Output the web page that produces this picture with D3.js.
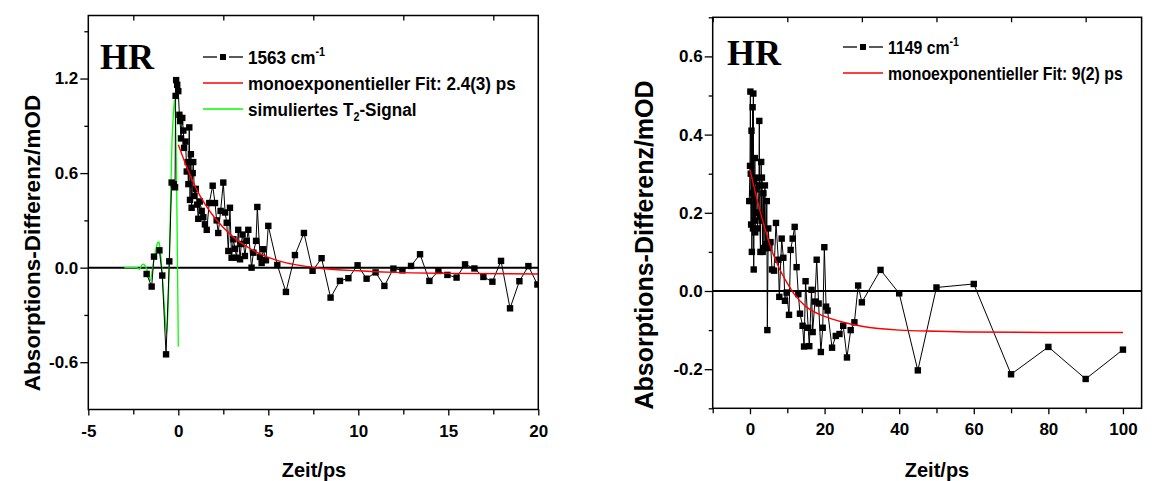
<!DOCTYPE html>
<html>
<head>
<meta charset="utf-8">
<script src="https://cdn.jsdelivr.net/npm/d3@7"></script>
<style>
  body { margin: 0; background: #fff; }
  svg { display: block; }
  text { font-family: "Liberation Sans", Arial, sans-serif; font-weight: bold; fill: #000; }
  .hr { font-family: "Liberation Serif", "Times New Roman", serif; }
</style>
</head>
<body>
<svg id="chart" width="1153" height="481"></svg>
<script>
// left panel: 1563 cm-1 trace [t/ps, dA/mOD]
var leftData = [
  [-1.76,-0.04],[-1.48,-0.12],[-1.35,0.07],[-1.05,0.11],[-0.89,-0.05],[-0.68,-0.55],[-0.5,0.04],
  [-0.37,0.54],[-0.25,0.53],[-0.18,0.51],[-0.15,1.09],[-0.12,1.19],[-0.06,1.16],[0.0,1.12],
  [0.06,0.97],[0.1,0.93],[0.15,0.82],[0.22,0.95],[0.28,0.87],[0.32,0.76],[0.4,0.8],[0.47,0.61],
  [0.52,0.67],[0.56,0.53],[0.61,0.89],[0.65,0.43],[0.7,0.72],[0.74,0.38],[0.8,0.6],[0.83,0.67],
  [0.9,0.455],[0.97,0.5],[1.05,0.4],[1.11,0.31],[1.2,0.42],[1.3,0.36],[1.39,0.32],[1.48,0.275],
  [1.58,0.24],[1.72,0.41],[1.91,0.52],[2.04,0.41],[2.13,0.3],[2.22,0.22],[2.35,0.36],[2.5,0.54],
  [2.6,0.35],[2.69,0.285],[2.78,0.106],[2.87,0.38],[2.96,0.063],[3.06,0.18],[3.15,0.12],[3.24,0.063],
  [3.33,0.24],[3.43,0.053],[3.5,0.15],[3.57,0.21],[3.7,0.074],[3.8,0.17],[3.89,0.24],[4.07,0.0],
  [4.17,0.095],[4.32,0.17],[4.39,0.385],[4.54,0.068],[4.63,0.03],[4.72,0.117],[4.87,0.047],[5.0,0.265],
  [5.5,0.017],[5.98,-0.154],[6.48,0.08],[6.98,0.22],[7.46,-0.02],[7.96,0.06],[8.46,-0.19],[8.98,-0.084],
  [9.45,-0.067],[9.96,0.015],[10.46,-0.07],[10.96,-0.03],[11.45,-0.116],[11.95,-0.006],[12.45,-0.017],
  [12.93,0.011],[13.43,0.085],[13.95,-0.084],[14.45,-0.021],[14.95,-0.046],[15.46,-0.063],[15.93,0.021],
  [16.45,-0.005],[16.95,-0.059],[17.45,-0.089],[17.93,0.043],[18.43,-0.258],[18.95,-0.086],[19.45,0.01],
  [19.95,-0.107]
];
var leftFit = [
  [0,0.78],[0.5,0.63],[1,0.5],[1.5,0.4],[2,0.32],[3,0.2],[4,0.12],[5,0.065],[6,0.03],[7,0.01],
  [8,-0.005],[10,-0.02],[12,-0.03],[15,-0.036],[20,-0.04]
];
var leftSim = [
  [-3.0,0],[-2.6,0],[-2.3,0],[-2.15,-0.01],[-2.0,0.02],[-1.9,0.02],[-1.75,-0.01],[-1.55,-0.08],
  [-1.4,0.02],[-1.2,0.14],[-1.07,0.16],[-0.95,0.05],[-0.8,-0.2],[-0.65,-0.42],[-0.55,-0.2],
  [-0.45,0.3],[-0.35,0.8],[-0.2,1.06],[-0.1,0.6],[0.0,-0.5]
];

// right panel: 1149 cm-1 trace
var rightData = [
  [-0.2,0.23],[0.0,0.32],[0.1,0.51],[0.2,0.3],[0.3,0.17],[0.4,0.41],[0.5,0.1],[0.6,0.25],[0.7,0.47],
  [0.8,0.16],[0.9,0.505],[1.0,0.055],[1.1,0.28],[1.2,0.18],[1.3,0.34],[1.4,0.15],[1.5,0.26],[1.6,0.2],
  [1.8,0.29],[2.0,0.16],[2.2,0.2],[2.4,0.27],[2.5,0.435],[2.6,0.19],[2.8,0.1],[3.0,0.33],[3.1,0.18],
  [3.2,0.29],[3.4,0.1],[3.6,0.25],[3.75,0.11],[4.0,0.27],[4.2,0.11],[4.4,0.12],[4.5,0.23],[4.65,-0.1],
  [4.9,0.16],[5.2,0.11],[5.5,0.125],[5.9,0.055],[6.45,0.052],[6.97,0.174],[7.6,0.08],[7.86,-0.015],
  [8.5,0.134],[8.94,0.085],[9.38,-0.025],[9.83,-0.004],[10.46,-0.061],[10.9,0.105],[11.44,0.134],
  [11.98,0.164],[12.5,0.061],[12.96,-0.008],[13.4,-0.058],[14.1,-0.089],[14.5,-0.142],[14.9,0.025],
  [15.6,-0.094],[15.9,-0.141],[16.5,0.003],[16.8,-0.105],[17.4,-0.027],[17.88,0.08],[18.4,-0.032],
  [19.0,-0.156],[19.5,-0.094],[19.93,0.112],[20.4,-0.04],[20.8,-0.05],[22,-0.145],[23,-0.115],
  [24,-0.11],[25,-0.089],[26,-0.17],[27,-0.1],[28,-0.08],[29,0.014],[30,-0.029],[35,0.054],
  [40,-0.006],[45,-0.203],[50,0.009],[60,0.018],[70,-0.213],[80,-0.143],[90,-0.225],[100,-0.15]
];
var rightFit = [
  [0,0.31],[2,0.23],[4,0.16],[6,0.1],[8,0.055],[10,0.02],[12,-0.01],[15,-0.04],[20,-0.065],
  [25,-0.08],[30,-0.09],[40,-0.1],[50,-0.103],[60,-0.105],[80,-0.106],[100,-0.106]
];

var leftXTicks = [-5, 0, 5, 10, 15, 20];
var leftYTicks = [-0.6, 0.0, 0.6, 1.2];
var rightXTicks = [0, 20, 40, 60, 80, 100];
var rightYTicks = [-0.2, 0.0, 0.2, 0.4, 0.6];

var svg = d3.select('#chart');
svg.append('rect').attr('width', 1153).attr('height', 481).attr('fill', '#fff');

// plain hyphen instead of unicode minus, like the original plot
function hyph(fmt) {
  var f = d3.format(fmt);
  return function(d) { return f(d).replace('\u2212', '-'); };
}

function drawPanel(cfg) {
  var x = d3.scaleLinear().domain(cfg.xDomain).range([cfg.left, cfg.right]);
  var y = d3.scaleLinear().domain(cfg.yDomain).range([cfg.bottom, cfg.top]);
  var g = svg.append('g');

  // clip to the frame
  var clipId = 'clip' + cfg.id;
  svg.append('clipPath').attr('id', clipId).append('rect')
    .attr('x', cfg.left).attr('y', cfg.top)
    .attr('width', cfg.right - cfg.left).attr('height', cfg.bottom - cfg.top);

  // zero line
  g.append('line')
    .attr('x1', cfg.left).attr('x2', cfg.right)
    .attr('y1', y(0)).attr('y2', y(0))
    .attr('stroke', '#000').attr('stroke-width', 2);

  var plot = g.append('g').attr('clip-path', 'url(#' + clipId + ')');
  var line = d3.line().x(function(d) { return x(d[0]); }).y(function(d) { return y(d[1]); });

  if (cfg.sim) {
    plot.append('path').datum(cfg.sim)
      .attr('d', d3.line().curve(d3.curveCardinal.tension(0.3))
        .x(function(d) { return x(d[0]); }).y(function(d) { return y(d[1]); }))
      .attr('fill', 'none').attr('stroke', '#00ff00').attr('stroke-width', 1.3);
  }
  plot.append('path').datum(cfg.data).attr('d', line)
    .attr('fill', 'none').attr('stroke', '#000').attr('stroke-width', 1);
  plot.selectAll('rect.pt').data(cfg.data).enter().append('rect')
    .attr('class', 'pt')
    .attr('x', function(d) { return x(d[0]) - 3.2; })
    .attr('y', function(d) { return y(d[1]) - 3.2; })
    .attr('width', 6.4).attr('height', 6.4)
    .attr('fill', '#000');
  plot.append('path').datum(cfg.fit)
    .attr('d', d3.line().curve(d3.curveMonotoneX)
      .x(function(d) { return x(d[0]); }).y(function(d) { return y(d[1]); }))
    .attr('fill', 'none').attr('stroke', '#ff0000').attr('stroke-width', 1.4);

  // axes
  var bottomAxis = d3.axisBottom(x).tickValues(cfg.xMinor).tickSize(5).tickFormat('');
  var bottomMajor = d3.axisBottom(x).tickValues(cfg.xTicks).tickSize(6).tickPadding(9)
    .tickFormat(hyph('d'));
  var leftMinor = d3.axisLeft(y).tickValues(cfg.yMinor).tickSize(4).tickFormat('');
  var leftMajor = d3.axisLeft(y).tickValues(cfg.yTicks).tickSize(8).tickPadding(2)
    .tickFormat(hyph('.1f'));
  var topMinor = d3.axisTop(x).tickValues(cfg.xMinor).tickSize(-5).tickFormat('');

  [[bottomAxis, 'translate(0,' + cfg.bottom + ')'],
   [bottomMajor, 'translate(0,' + cfg.bottom + ')'],
   [topMinor, 'translate(0,' + cfg.top + ')'],
   [leftMinor, 'translate(' + cfg.left + ',0)'],
   [leftMajor, 'translate(' + cfg.left + ',0)']].forEach(function(a) {
    var ax = g.append('g').attr('transform', a[1]).call(a[0]);
    ax.select('.domain').remove();
    ax.selectAll('line').attr('stroke', '#000').attr('stroke-width', 1.3);
    ax.selectAll('text').style('font-size', '17px').style('font-family', '"Liberation Sans", Arial, sans-serif')
      .style('font-weight', 'bold').attr('fill', '#000');
  });

  // frame
  g.append('rect')
    .attr('x', cfg.left).attr('y', cfg.top)
    .attr('width', cfg.right - cfg.left).attr('height', cfg.bottom - cfg.top)
    .attr('fill', 'none').attr('stroke', '#000').attr('stroke-width', 1.5);

  // titles
  g.append('text').attr('x', cfg.xTitleX).attr('y', 477).attr('text-anchor', 'middle')
    .style('font-size', '20px').text('Zeit/ps');
  g.append('text')
    .attr('transform', 'translate(' + cfg.yTitleX + ',' + cfg.yTitleY + ') rotate(-90)')
    .attr('text-anchor', 'middle').style('font-size', cfg.yTitleSize + 'px')
    .text('Absorptions-Differenz/mOD');

  g.append('text').attr('class', 'hr').attr('x', cfg.hrX).attr('y', cfg.hrY)
    .style('font-size', '36px').text('HR');

  // legend (text a bit condensed, as in the original)
  var lg = g.append('g').attr('transform', 'translate(' + cfg.legX + ',' + cfg.legY + ')');
  cfg.legend.forEach(function(item, i) {
    var row = lg.append('g').attr('transform', 'translate(0,' + i * 26 + ')');
    if (item.type === 'sym') {
      row.append('line').attr('x1', 0).attr('x2', 14).attr('y1', 0).attr('y2', 0)
        .attr('stroke', '#000').attr('stroke-width', 1.3);
      row.append('line').attr('x1', 26).attr('x2', 40).attr('y1', 0).attr('y2', 0)
        .attr('stroke', '#000').attr('stroke-width', 1.3);
      row.append('rect').attr('x', 17).attr('y', -3).attr('width', 6).attr('height', 6).attr('fill', '#000');
    } else {
      row.append('line').attr('x1', 0).attr('x2', 40).attr('y1', 0).attr('y2', 0)
        .attr('stroke', item.color).attr('stroke-width', 1.3);
    }
    var t = row.append('text')
      .attr('transform', 'translate(45,7) scale(' + cfg.legSquash + ',1)')
      .style('font-size', cfg.legSize + 'px');
    item.parts.forEach(function(p) {
      var ts = t.append('tspan').text(p.text);
      if (p.sup) ts.attr('dy', -8).style('font-size', '12px');
      if (p.sub) ts.attr('dy', 5).style('font-size', '12px');
      if (p.back) ts.attr('dy', p.back);
    });
  });
}

drawPanel({
  id: 'L', left: 88.3, right: 538.3, top: 15.5, bottom: 409.5,
  xDomain: [-5, 20], yDomain: [-0.9, 1.6],
  xTicks: leftXTicks, yTicks: leftYTicks,
  xMinor: [-2.5, 2.5, 7.5, 12.5, 17.5], yMinor: [-0.3, 0.3, 0.9, 1.5],
  data: leftData, fit: leftFit, sim: leftSim,
  xTitleX: 314, yTitleX: 40, yTitleY: 243, yTitleSize: 22.5,
  hrX: 100, hrY: 69,
  legX: 203, legY: 57, legSize: 19, legSquash: 0.9,
  legend: [
    { type: 'sym', parts: [{ text: '1563 cm' }, { text: '-1', sup: true }] },
    { type: 'line', color: '#ff0000', parts: [{ text: 'monoexponentieller Fit: 2.4(3) ps' }] },
    { type: 'line', color: '#00ff00', parts: [{ text: 'simuliertes T' }, { text: '2', sub: true },
      { text: '-Signal', back: -5 }] }
  ]
});

drawPanel({
  id: 'R', left: 712.7, right: 1141.6, top: 17.3, bottom: 408.3,
  xDomain: [-10, 105], yDomain: [-0.3, 0.7],
  xTicks: rightXTicks, yTicks: rightYTicks,
  xMinor: [-10, 10, 30, 50, 70, 90], yMinor: [-0.3, -0.1, 0.1, 0.3, 0.5, 0.7],
  data: rightData, fit: rightFit, sim: null,
  xTitleX: 937, yTitleX: 653, yTitleY: 245, yTitleSize: 25,
  hrX: 727, hrY: 65,
  legX: 843, legY: 47, legSize: 18, legSquash: 0.88,
  legend: [
    { type: 'sym', parts: [{ text: '1149 cm' }, { text: '-1', sup: true }] },
    { type: 'line', color: '#ff0000', parts: [{ text: 'monoexponentieller Fit: 9(2) ps' }] }
  ]
});
</script>
</body>
</html>
